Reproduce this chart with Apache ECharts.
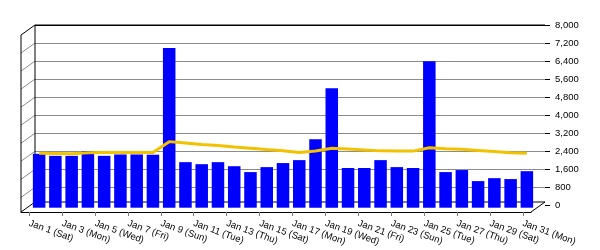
<!DOCTYPE html>
<html>
<head>
<meta charset="utf-8">
<script src="https://cdn.jsdelivr.net/npm/echarts@6/dist/echarts.min.js"></script>
<style>html,body{margin:0;padding:0;background:#fff}#c{width:600px;height:250px}</style>
</head>
<body>
<div id="c"></div>
<script>
const categories = [
  'Jan 1 (Sat)','Jan 2 (Sun)','Jan 3 (Mon)','Jan 4 (Tue)','Jan 5 (Wed)','Jan 6 (Thu)','Jan 7 (Fri)',
  'Jan 8 (Sat)','Jan 9 (Sun)','Jan 10 (Mon)','Jan 11 (Tue)','Jan 12 (Wed)','Jan 13 (Thu)','Jan 14 (Fri)',
  'Jan 15 (Sat)','Jan 16 (Sun)','Jan 17 (Mon)','Jan 18 (Tue)','Jan 19 (Wed)','Jan 20 (Thu)','Jan 21 (Fri)',
  'Jan 22 (Sat)','Jan 23 (Sun)','Jan 24 (Mon)','Jan 25 (Tue)','Jan 26 (Wed)','Jan 27 (Thu)','Jan 28 (Fri)',
  'Jan 29 (Sat)','Jan 30 (Sun)','Jan 31 (Mon)'
];
const barValues = [
  2390, 2300, 2300, 2510, 2300, 2360, 2360, 2350, 7080, 2020, 1930,
  2020, 1840, 1580, 1800, 1980, 2110, 3040, 5300, 1760, 1760, 2110,
  1800, 1760, 6500, 1580, 1670, 1180, 1310, 1270, 1620
];
const lineValues = [
  2410, 2400, 2390, 2440, 2450, 2450, 2450, 2450, 2930, 2870, 2800,
  2760, 2690, 2640, 2580, 2530, 2450, 2510, 2640, 2600, 2560, 2520,
  2510, 2510, 2660, 2610, 2590, 2540, 2490, 2440, 2410
];
const yMin = 0, yMax = 8000, yStep = 800;

// layout
const BACK = {left: 35, top: 25, right: 545, height: 180.4};
const DX = -14, DY = 10;
const FLOOR_BACK_Y = 202;

const chart = echarts.init(document.getElementById('c'), null, {renderer: 'canvas'});
const FONT = 'Liberation Sans';
const nTicks = Math.round((yMax - yMin) / yStep) + 1;
const splitColors = [];
for (let i = 0; i < nTicks; i++) splitColors.push(i === 0 ? 'rgba(0,0,0,0)' : (i === nTicks - 1 ? '#000' : '#8c8c8c'));

const frontLeft = BACK.left + DX, frontRight = BACK.right + DX;
const frontTop = BACK.top + DY, frontBottom = FLOOR_BACK_Y + DY;

chart.setOption({
  animation: false,
  grid: [
    {left: BACK.left, top: BACK.top, width: BACK.right - BACK.left, height: BACK.height},
    {left: 31, top: 27.3, width: 504, height: BACK.height},
    {left: frontLeft, top: frontTop, width: frontRight - frontLeft, height: frontBottom - frontTop}
  ],
  xAxis: [
    {gridIndex: 0, type: 'category', data: categories, show: false},
    {gridIndex: 1, type: 'category', data: categories, show: false},
    {gridIndex: 2, type: 'category', data: categories,
      axisLine: {show: true, lineStyle: {color: '#000', width: 1}},
      axisTick: {show: true, interval: 1, alignWithLabel: true, length: 4, lineStyle: {color: '#777'}},
      axisLabel: {interval: 1, rotate: -20, margin: 11, fontFamily: FONT, fontSize: 9.5, color: '#000'}
    }
  ],
  yAxis: [
    {gridIndex: 0, type: 'value', min: yMin, max: yMax, interval: yStep, position: 'right',
      axisLine: {show: false},
      axisTick: {show: true, length: 5, lineStyle: {color: '#000'}},
      axisLabel: {margin: 10, fontFamily: FONT, fontSize: 9.5, color: '#000',
        formatter: v => v.toLocaleString('en-US')},
      splitLine: {show: true, lineStyle: {color: splitColors, width: 1}}
    },
    {gridIndex: 1, type: 'value', min: yMin, max: yMax, interval: yStep, show: false, splitLine: {show: false}},
    {gridIndex: 2, type: 'value', min: yMin, max: yMax, show: false, splitLine: {show: false}}
  ],
  series: [
    {type: 'bar', xAxisIndex: 1, yAxisIndex: 1, data: barValues, barCategoryGap: '23%',
      itemStyle: {color: '#0000ff'}, z: 3},
    {type: 'line', xAxisIndex: 1, yAxisIndex: 1, data: lineValues, symbol: 'none',
      lineStyle: {color: '#f2c200', width: 3}, z: 4}
  ]
});

// decorative 3D frame derived from the back grid and its value scale
const ln = (x1, y1, x2, y2, color) => ({type: 'line', z: 1, silent: true,
  shape: {x1, y1, x2, y2}, style: {stroke: color, lineWidth: 1}});
const g = [];
for (let v = yMin + yStep; v < yMax; v += yStep) {
  const y = chart.convertToPixel({yAxisIndex: 0}, v);
  g.push(ln(BACK.left, y, BACK.left + DX, y + DY, '#8c8c8c'));
}
const yTop = chart.convertToPixel({yAxisIndex: 0}, yMax);
g.push(ln(BACK.left, yTop, BACK.right, yTop, '#000'));
g.push(ln(BACK.left, yTop, BACK.left + DX, yTop + DY, '#000'));
g.push(ln(BACK.left, yTop, BACK.left, FLOOR_BACK_Y, '#000'));
g.push(ln(BACK.left + DX, yTop + DY, BACK.left + DX, FLOOR_BACK_Y + DY, '#000'));
g.push(ln(BACK.left, FLOOR_BACK_Y, BACK.right, FLOOR_BACK_Y, '#000'));
g.push(ln(BACK.left, FLOOR_BACK_Y, BACK.left + DX, FLOOR_BACK_Y + DY, '#000'));
g.push(ln(BACK.right, FLOOR_BACK_Y, BACK.right + DX, FLOOR_BACK_Y + DY, '#000'));
chart.setOption({graphic: {elements: g}});
</script>
</body>
</html>
